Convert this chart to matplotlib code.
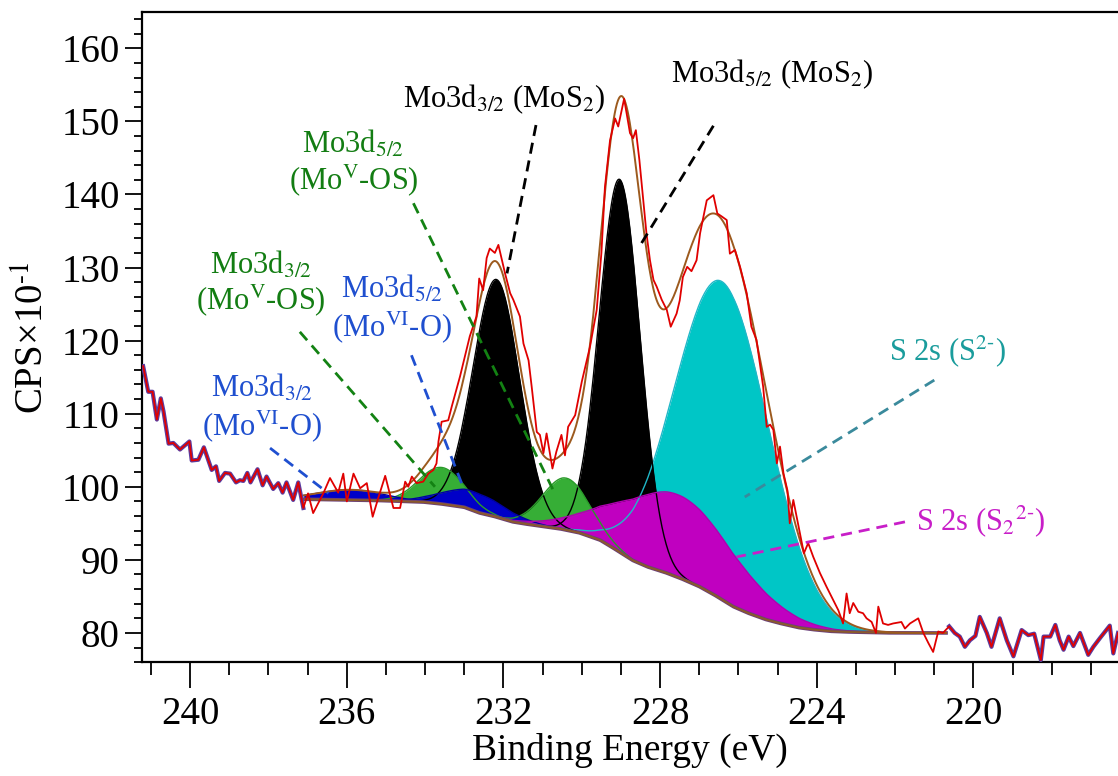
import numpy as np
import matplotlib
matplotlib.use('Agg')
from matplotlib import pyplot
from matplotlib.ticker import MultipleLocator

pyplot.rcParams['font.family'] = ['Liberation Serif', 'DejaVu Serif']
pyplot.rcParams['mathtext.fontset'] = 'stix'

# measured spectrum (binding energy / eV, CPS x 10^-1)
energy = [241.2, 241.07, 240.96, 240.85, 240.75, 240.68, 240.55, 240.43, 240.26, 240.02,
          239.96, 239.79, 239.65, 239.45, 239.34, 239.26, 239.11, 238.98, 238.83, 238.73,
          238.64, 238.54, 238.46, 238.28, 238.15, 238.05, 237.88, 237.75, 237.64, 237.54,
          237.37, 237.24, 237.11, 236.99, 236.86, 236.6, 236.43, 236.22, 236.09, 236.0,
          235.83, 235.66, 235.49, 235.34, 235.19, 235.02, 234.81, 234.64, 234.51, 234.43,
          234.34, 234.22, 234.05, 233.92, 233.79, 233.71, 233.66, 233.58, 233.41, 233.32,
          233.11, 232.86, 232.69, 232.62, 232.52, 232.43, 232.35, 232.22, 232.13, 231.96,
          231.83, 231.75, 231.58, 231.49, 231.36, 231.28, 231.15, 231.07, 230.98, 230.9,
          230.75, 230.65, 230.52, 230.43, 230.35, 230.17, 230.0, 229.79, 229.62, 229.5,
          229.41, 229.28, 229.15, 229.07, 228.92, 228.77, 228.69, 228.62, 228.53, 228.43,
          228.35, 228.26, 228.17, 228.09, 227.96, 227.83, 227.73, 227.58, 227.5, 227.42,
          227.31, 227.2, 227.07, 226.98, 226.81, 226.64, 226.54, 226.43, 226.3, 226.22,
          226.09, 225.96, 225.79, 225.67, 225.54, 225.37, 225.28, 225.19, 225.11, 225.02,
          224.94, 224.85, 224.75, 224.69, 224.6, 224.43, 224.33, 224.22, 224.09, 223.92,
          223.75, 223.58, 223.45, 223.33, 223.24, 223.16, 223.07, 222.94, 222.82, 222.73,
          222.6, 222.49, 222.43, 222.31, 222.18, 222.05, 221.84, 221.75, 221.62, 221.41,
          221.28, 221.15, 221.03, 220.9, 220.78, 220.62, 220.48, 220.35, 220.22, 220.09,
          219.95, 219.84, 219.66, 219.54, 219.33, 219.15, 218.98, 218.77, 218.6, 218.45,
          218.28, 218.21, 218.04, 217.91, 217.8, 217.7, 217.57, 217.45, 217.28, 217.07,
          216.94, 216.77, 216.52, 216.43, 216.31]
counts = [116.5, 113.0, 113.0, 109.2, 112.1, 110.3, 105.9, 106.0, 105.1, 106.2,
          103.6, 103.7, 105.4, 102.3, 102.8, 100.8, 101.9, 101.8, 100.6, 100.9,
          100.8, 101.9, 100.6, 102.4, 100.2, 101.4, 99.7, 100.5, 99.2, 100.6,
          98.2, 100.6, 97.1, 99.1, 96.4, 99.1, 101.2, 99.2, 101.8, 98.0,
          101.8, 99.8, 100.5, 95.9, 98.6, 101.5, 97.1, 97.1, 100.7, 100.0,
          101.4, 100.5, 100.7, 101.8, 102.3, 103.2, 106.2, 108.9, 109.1, 111.0,
          115.1, 120.6, 123.3, 128.5, 126.9, 131.3, 132.6, 132.0, 133.1, 129.2,
          126.5, 125.6, 123.3, 119.6, 117.3, 113.7, 107.5, 107.1, 104.6, 107.3,
          102.5, 104.8, 107.1, 104.3, 108.2, 109.8, 114.4, 119.2, 124.2, 132.0,
          141.0, 147.4, 150.4, 149.3, 153.1, 148.4, 147.7, 148.8, 144.7, 139.2,
          134.7, 131.0, 128.3, 127.4, 125.6, 124.2, 121.9, 123.7, 125.5, 128.7,
          130.1, 129.5, 131.0, 134.7, 139.2, 139.9, 137.4, 137.0, 136.5, 131.9,
          132.4, 130.1, 126.5, 121.9, 120.1, 113.7, 108.2, 108.5, 107.8, 103.2,
          105.5, 101.8, 99.5, 95.0, 98.2, 93.6, 90.9, 92.3, 90.4, 88.2,
          86.3, 84.5, 83.1, 81.3, 85.4, 82.7, 84.1, 82.9, 82.7, 82.0,
          81.5, 80.0, 83.6, 81.3, 81.1, 81.3, 81.5, 80.6, 81.3, 82.0,
          80.0, 78.6, 77.4, 80.2, 80.0, 80.9, 80.0, 79.5, 78.1, 79.0,
          79.6, 82.2, 80.0, 78.1, 82.0, 79.0, 76.8, 80.4, 79.7, 79.9,
          76.3, 79.5, 79.5, 81.1, 79.0, 77.7, 79.5, 78.2, 80.0, 77.0,
          78.1, 79.3, 81.0, 77.2, 80.0]

# Shirley background under the fitted window
bg_energy = [237.1, 236.0, 235.0, 234.0, 233.5, 233.0, 232.6, 232.2, 231.76, 231.3,
             230.9, 230.5, 230.06, 229.53, 229.1, 228.69, 228.3, 227.83, 227.4, 226.98,
             226.55, 226.13, 225.7, 225.28, 224.85, 224.43, 224.0, 223.58, 223.0, 222.0,
             220.7]
bg_counts = [98.3, 98.2, 98.1, 97.9, 97.6, 97.2, 96.4, 95.9, 95.2, 94.8,
             94.5, 94.2, 93.7, 92.7, 91.3, 89.9, 89.0, 88.2, 87.3, 86.3,
             85.0, 83.6, 82.6, 81.8, 81.2, 80.7, 80.4, 80.2, 80.1, 80.0,
             80.0]

# fitted components: position (eV), height, FWHM (eV)
peak_names = ['Mo(VI) 3d3/2', 'Mo(VI) 3d5/2', 'Mo(V) 3d3/2', 'Mo(V) 3d5/2',
              'MoS2 3d3/2', 'MoS2 3d5/2', 'S2- 2s', 'S2 2- 2s']
peak_centers = [235.9, 232.75, 233.58, 230.4, 232.18, 229.03, 226.42, 227.55]
peak_heights = [1.4, 2.6, 5.0, 7.1, 32.5, 51.0, 43.5, 11.3]
peak_fwhm = [2.0, 1.9, 1.35, 1.4, 1.4, 1.23, 2.8, 3.5]

# annotation text, position and leader line (x0, y0, x1, y1)
labels = [
    (['Mo3d$_{3/2}$ (MoS$_2$)'], 231.99, [151.9], (231.17, 149.5, 231.91, 129.2)),
    (['Mo3d$_{5/2}$ (MoS$_2$)'], 225.13, [155.4], (226.64, 149.4, 228.56, 132.6)),
    (['Mo3d$_{5/2}$', '(Mo$^{\\mathrm{V}}$-OS)'], 235.83, [145.7, 140.7],
     (234.3, 138.8, 230.69, 99.1)),
    (['Mo3d$_{3/2}$', '(Mo$^{\\mathrm{V}}$-OS)'], 238.2, [129.2, 124.3],
     (237.2, 121.2, 233.75, 100.0)),
    (['Mo3d$_{5/2}$', '(Mo$^{\\mathrm{VI}}$-O)'], 234.84, [125.8, 120.6],
     (234.35, 118.0, 233.07, 100.5)),
    (['Mo3d$_{3/2}$', '(Mo$^{\\mathrm{VI}}$-O)'], 238.17, [112.3, 107.1],
     (237.96, 105.3, 236.47, 99.1)),
    (['S 2s (S$^{\\text{2-}}$)'], 220.67, [117.3], (221.0, 114.6, 225.84, 98.6)),
    (['S 2s (S$_2$$^{\\text{2-}}$)'], 219.82, [94.1], (221.75, 95.2, 226.05, 90.4)),
]
label_colors = ['#000000', '#000000', '#137d13', '#137d13',
                '#1f4fcf', '#1f4fcf', '#1a9c9c', '#c81ec8']
line_colors = ['#000000', '#000000', '#138213', '#138213',
               '#1f4fd0', '#1f4fd0', '#3a8a9c', '#c81ec8']

fill_colors = ['#0000c8', '#0000c8', '#36ae36', '#36ae36',
               '#000000', '#000000', '#00c6c6', '#c000c0']
edge_colors = ['#0000a0', '#0000a0', '#2a9a2a', '#2a9a2a',
               '#000000', '#000000', '#20b8c8', '#b000b0']
fill_order = [6, 4, 5, 2, 3, 0, 1, 7]

energy = np.array(energy)
counts = np.array(counts)
order = np.argsort(bg_energy)
grid = np.linspace(bg_energy[-1], bg_energy[0], 600)
bg = np.interp(grid, np.array(bg_energy)[order], np.array(bg_counts)[order])
components = [h*np.exp(-4.0*np.log(2.0)*((grid - c)/w)**2)
              for c, h, w in zip(peak_centers, peak_heights, peak_fwhm)]
envelope = bg + np.sum(components, axis=0)

fig = pyplot.figure(figsize=(11.18, 7.76), dpi=100)
ax = fig.add_axes([0.127, 0.1463, 0.873, 0.8376])

for z, i in enumerate(fill_order):
    ax.fill_between(grid, bg, bg + components[i], color=fill_colors[i],
                    linewidth=0, zorder=2 + z*0.1)
for i in fill_order:
    ax.plot(grid, bg + components[i], color=edge_colors[i], linewidth=1.0,
            zorder=4)
ax.plot(grid, bg, color='#6a3f7a', linewidth=2.6, zorder=5)
ax.plot(grid, bg, color='#8b5a2b', linewidth=1.4, zorder=5)
ax.plot(grid, envelope, color='#9c5a1e', linewidth=1.4, zorder=6)

outside = (energy >= 237.1)
ax.plot(energy[outside], counts[outside], color='#5a3ca0', linewidth=3.0,
        zorder=7)
outside = (energy <= 220.7)
ax.plot(energy[outside], counts[outside], color='#5a3ca0', linewidth=3.0,
        zorder=7)
ax.plot(energy, counts, color='#e00000', linewidth=1.3, zorder=8)

for (lines, x, ys, lead), tc, lc in zip(labels, label_colors, line_colors):
    for s, y in zip(lines, ys):
        ax.text(x, y, s, color=tc, fontsize=22, ha='center', va='baseline',
                zorder=10)
    ax.plot([lead[0], lead[2]], [lead[1], lead[3]], color=lc, linewidth=2.0,
            linestyle=(0, (4, 2.5)), zorder=9)

ax.set_xlim(241.23, 216.31)
ax.set_ylim(75.96, 164.9)
ax.xaxis.set_major_locator(MultipleLocator(4))
ax.xaxis.set_minor_locator(MultipleLocator(1))
ax.yaxis.set_major_locator(MultipleLocator(10))
ax.yaxis.set_minor_locator(MultipleLocator(2))
ax.tick_params(axis='x', which='major', direction='out', length=19, width=1.3,
               labelsize=28, pad=5)
ax.tick_params(axis='x', which='minor', direction='out', length=9, width=1.3)
ax.tick_params(axis='y', which='major', direction='out', length=12, width=1.3,
               labelsize=28, pad=4)
ax.tick_params(axis='y', which='minor', direction='out', length=6, width=1.3)
ax.spines['right'].set_visible(False)
for side in ['left', 'top', 'bottom']:
    ax.spines[side].set_linewidth(1.6)
ax.set_xlabel('Binding Energy (eV)', fontsize=27, labelpad=0)
ax.set_ylabel('CPS\u00d710$^{\\text{-1}}$', fontsize=28, labelpad=6)

pyplot.savefig('out.png', dpi=100)
